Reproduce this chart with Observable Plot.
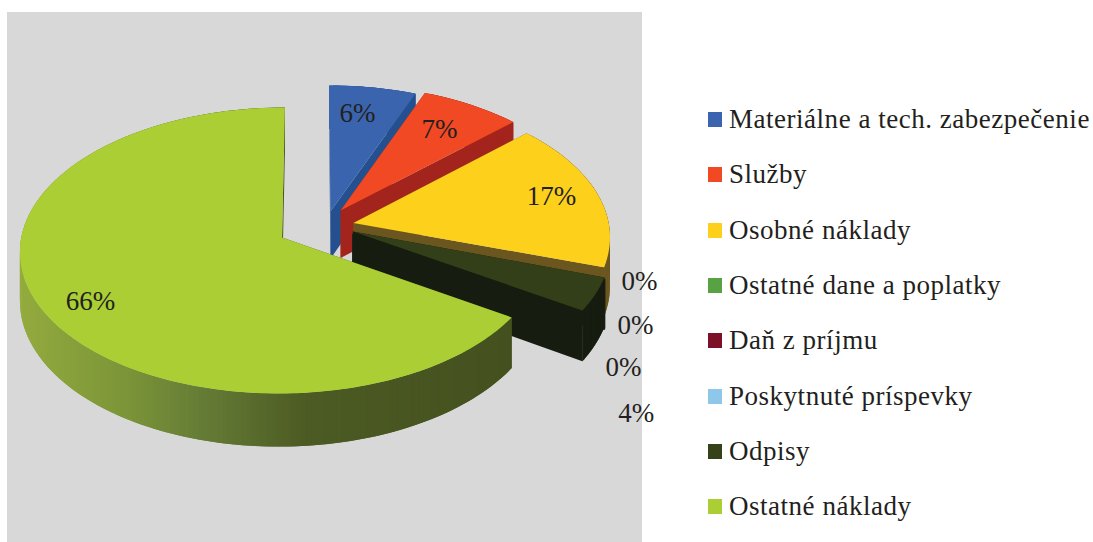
<!DOCTYPE html>
<html><head><meta charset="utf-8">
<script src="https://cdn.jsdelivr.net/npm/d3@7"></script>
<script src="https://cdn.jsdelivr.net/npm/@observablehq/plot@0.6"></script>
<style>
html,body{margin:0;padding:0;background:#fff;overflow:hidden;width:1093px;height:542px;font-family:"Liberation Serif",serif;color:#231f20}
#panel{position:absolute;left:7px;top:12px;width:635px;height:530px;background:#d8d8d8}
#chart{position:absolute;left:7px;top:12px}
#chart svg{display:block;background:transparent}
#legend{position:absolute;left:708px;top:92px;font-size:27px;letter-spacing:.52px}
.row{height:55.3px;display:flex;align-items:center;white-space:nowrap}
.sw{width:14px;height:15px;margin-right:7px;flex:none}
</style></head><body>
<div id="panel"></div><div id="chart"></div><div id="legend"></div>
<script>
const categories = ["Materiálne a tech. zabezpečenie","Služby","Osobné náklady","Ostatné dane a poplatky","Daň z príjmu","Poskytnuté príspevky","Odpisy","Ostatné náklady"];
const values = [6,7,17,0.05,0.05,0.05,3.85,66];
const topColors = ["#3b64ae","#f04923","#fdd01c","#4a5a30","#6a2a40","#4b62a0","#323f18","#abce34"];
const legendColors = ["#3b64ae","#f04923","#fdd01c","#58a244","#7b1026","#8ec7ea","#354118","#abce34"];
const wallColors = ["#25508f","#a3241c","#6b5620","#161c10","#161c10","#1c2a30","#161c10","#44521f"];
const labelAngles = [11.1,34.5,76.4,107,119.4,129.8,136.8,239.1];
const labelRadii = [0.896,0.906,0.964,1.275,1.345,1.432,1.629,0.982];
// small per-slice adjustments of the explosion (pie units)
const nudgeX = [0.027,0.012,0,0,0,0,0.008,-0.004];
const nudgeY = [0.029,0,0,0,0,0,-0.036,0];
const widen = [1,1,1,1,1,1,1,1.012];

// Pie view: perspective-tilted disc with exploded slices
const view = {cx:316, cy:227, rx:256, ry:140, k:0.09, depth:48, explode:0.148, panelX:7, panelY:12};
const rad = d => d*Math.PI/180;
function project(X,Y,drop=0){
  const w = 1 - view.k*Y;
  return {x: view.cx + view.rx*X/w - view.panelX, y: view.cy + (view.ry*Y+drop)/w - view.panelY};
}
const greenShade = d3.scaleLinear().domain([20,130,200,310,510]).range(["#94ab3e","#7b9438","#667d36","#4c5a23","#44511f"]).interpolate(d3.interpolateRgb);

const rows = [];
let pid = 0;
const poly = (pts,fill) => { pid++; for (const p of pts) rows.push({x:p.x,y:p.y,id:pid,fill}); };
let cum = 0;
values.forEach((v,i)=>{
  const a0 = cum*3.6, a1 = (cum+v)*3.6; cum += v;
  const m = rad((a0+a1)/2);
  const ox = view.explode*Math.sin(m)+nudgeX[i], oy = -view.explode*Math.cos(m)+nudgeY[i];
  const pt = (deg,r,drop=0)=>project(ox+widen[i]*r*Math.sin(rad(deg)), oy-r*Math.cos(rad(deg)), drop);
  const angs = d3.range(a0,a1,1).concat([a1]);
  // cut faces
  poly([pt(a0,0),pt(a0,1),pt(a0,1,view.depth),pt(a0,0,view.depth)],wallColors[i]);
  poly([pt(a1,0),pt(a1,1),pt(a1,1,view.depth),pt(a1,0,view.depth)],wallColors[i]);
  // outer wall: overlapping strips so no seams show
  for (let j=0;j<angs.length-1;j++){
    const e=Math.min(j+2,angs.length-1);
    const p=[pt(angs[j],1),pt(angs[e],1),pt(angs[e],1,view.depth),pt(angs[j],1,view.depth)];
    poly(p, i===7 ? greenShade(p[0].x+view.panelX) : wallColors[i]);
  }
  // top face
  poly([pt(a0,0),...angs.map(d=>pt(d,1))],topColors[i]);
});

const labels = values.map((v,i)=>{
  const r=labelRadii[i], d=rad(labelAngles[i]);
  return {...project(r*Math.sin(d),-r*Math.cos(d)), text:Math.round(v)+"%"};
});

const plot = Plot.plot({
  width:660, height:530, margin:0,
  x:{domain:[0,660],range:[0,660],axis:null},
  y:{domain:[0,530],range:[0,530],axis:null},
  color:{type:"identity"},
  marks:[
    Plot.line(rows,{x:"x",y:"y",z:"id",fill:"fill",strokeWidth:0,stroke:"none",curve:"linear-closed",shapeRendering:"geometricPrecision"}),
    Plot.text(labels,{x:"x",y:"y",text:"text",fontSize:27,fontFamily:"Liberation Serif",fill:"#231f20"})
  ]
});
plot.style.background="transparent";
document.getElementById("chart").append(plot);

const legend = document.getElementById("legend");
categories.forEach((c,i)=>{
  const row=document.createElement("div");row.className="row";
  const sw=document.createElement("span");sw.className="sw";sw.style.background=legendColors[i];
  row.append(sw,document.createTextNode(c));legend.append(row);
});
</script></body></html>
